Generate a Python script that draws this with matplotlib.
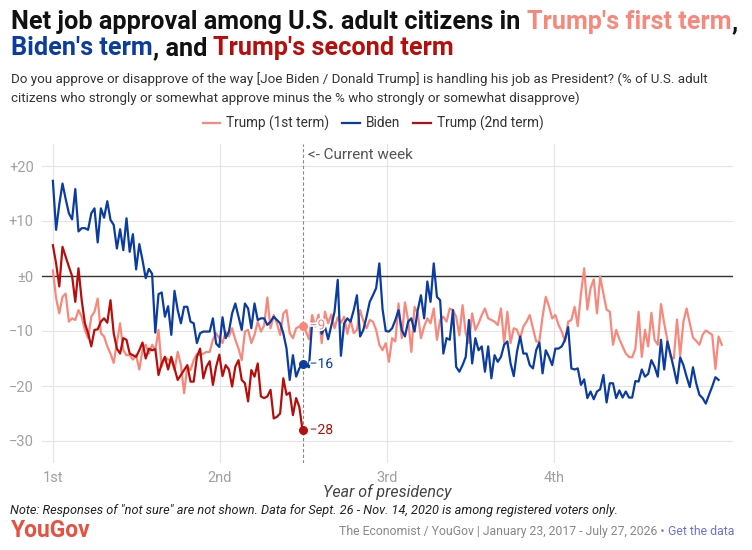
import numpy as np
import matplotlib.pyplot as plt
from matplotlib import patheffects as pe

# weekly net approval, week 0 = start of term
trump1 = [1.0, -4.0, -6.8, -3.8, -3.2, -8.3, -7.7, -8.0, -6.2, -7.4,
          -9.8, -11.3, -7.4, -6.5, -4.1, -10.4, -11.0, -12.8, -14.1, -15.8,
          -12.2, -8.6, -13.5, -14.4, -14.4, -15.2, -14.4, -17.0, -13.5, -12.5,
          -14.1, -12.5, -13.5, -9.8, -16.5, -14.7, -15.2, -15.3, -17.1, -13.8,
          -16.2, -21.3, -16.5, -17.1, -15.3, -14.2, -14.4, -14.1, -13.8, -13.8,
          -11.6, -10.4, -11.3, -12.2, -10.1, -11.0, -9.5, -11.6, -13.2, -15.3,
          -10.1, -9.8, -12.2, -10.7, -8.3, -10.1, -9.0, -3.9, -9.5, -7.1,
          -8.6, -10.7, -6.8, -6.2, -10.4, -11.3, -9.5, -9.2, -9.0, -10.0,
          -11.5, -7.1, -9.2, -7.0, -12.2, -6.5, -8.6, -7.0, -9.5, -7.5,
          -8.5, -7.4, -10.5, -8.0, -10.4, -9.8, -6.2, -8.2, -9.5, -8.0,
          -8.3, -9.8, -12.5, -13.5, -12.2, -15.6, -11.3, -11.9, -5.0, -11.3,
          -4.8, -8.0, -13.8, -5.6, -6.8, -11.3, -9.2, -7.7, -8.6, -5.9,
          -11.6, -8.0, -7.4, -8.3, -5.9, -6.2, -7.4, -10.8, -5.3, -10.4,
          -12.2, -6.8, -9.8, -8.6, -7.1, -5.9, -7.7, -8.0, -8.3, -8.9,
          -5.9, -12.2, -6.5, -12.2, -9.5, -9.8, -11.3, -9.2, -8.3, -7.1,
          -9.5, -11.9, -11.9, -7.4, -3.8, -5.5, -7.7, -7.1, -8.9, -10.1,
          -11.9, -8.3, -8.0, -5.6, -9.1, -3.2, 1.4, -6.1, -2.2, -0.6,
          -6.8, -0.1, -3.2, -6.1, -6.5, -12.5, -9.8, -11.5, -12.8, -14.1,
          -14.7, -14.8, -13.2, -6.5, -14.7, -9.8, -12.8, -6.7, -11.6, -12.5,
          -5.1, -8.6, -11.6, -14.7, -15.0, -7.9, -14.5, -8.3, -5.9, -8.6,
          -11.2, -11.8, -12.5, -10.7, -9.9, -10.3, -10.7, -16.9, -11.0, -12.5]

biden = [17.3, 8.4, 13.0, 16.8, 14.0, 11.4, 10.3, 15.8, 8.1, 8.7,
         8.7, 8.4, 11.4, 12.3, 6.1, 12.3, 10.6, 13.6, 10.2, 9.3,
         5.0, 8.5, 4.7, 10.5, 4.4, 7.6, 1.2, 5.8, 2.9, -0.4,
         1.3, 0.4, -10.3, -3.3, -3.0, -7.4, -5.5, -10.7, -2.7, -6.2,
         -8.6, -5.6, -5.6, -8.3, -8.6, -12.2, -10.4, -10.1, -10.1, -10.1,
         -7.7, -12.3, -12.9, -7.5, -11.3, -10.1, -6.8, -5.0, -7.4, -9.8,
         -5.0, -5.9, -9.5, -5.0, -8.0, -7.7, -7.7, -8.9, -8.3, -7.4,
         -8.0, -8.6, -10.4, -13.2, -18.9, -14.4, -18.3, -16.8, -16.0, -16.2,
         -16.6, -8.5, -8.9, -8.2, -10.5, -9.2, -11.5, -9.0, -6.5, -0.7,
         -14.5, -8.6, -7.7, -8.3, -6.2, -3.5, -11.0, -9.8, -7.4, -4.7,
         -3.5, -2.2, 2.3, -6.0, -10.0, -10.1, -9.5, -8.0, -6.2, -9.8,
         -11.0, -8.3, -7.7, -10.1, -6.2, -3.5, -7.7, -1.0, -4.7, 2.3,
         -3.8, -4.4, -14.1, -11.3, -11.6, -6.2, -16.5, -17.4, -16.2, -14.7,
         -8.0, -15.9, -11.3, -13.5, -12.8, -17.4, -12.8, -18.6, -14.4, -15.6,
         -14.7, -12.5, -11.9, -15.9, -18.2, -13.8, -11.0, -14.1, -14.1, -16.2,
         -16.8, -13.5, -12.1, -17.7, -13.5, -14.7, -16.2, -13.2, -13.2, -12.8,
         -11.6, -9.3, -16.8, -17.0, -16.8, -19.8, -18.8, -22.2, -21.0, -22.4,
         -21.0, -20.6, -18.0, -23.0, -19.5, -19.5, -22.2, -20.8, -22.1, -21.0,
         -22.1, -22.1, -19.1, -19.2, -17.0, -18.3, -17.8, -15.3, -16.5, -18.3,
         -11.6, -17.0, -11.9, -14.3, -16.8, -19.5, -14.8, -16.2, -18.3, -20.2,
         -16.6, -19.5, -21.6, -22.2, -23.2, -21.6, -20.1, -18.4, -18.9]

trump2 = [5.6, 2.3, -1.9, 5.3, 3.5, 1.7, 0.0, -4.7, 1.4, -4.4,
          -8.6, -10.4, -12.8, -9.8, -9.7, -8.3, -7.7, -8.5, -4.4, -10.4,
          -13.2, -14.1, -11.3, -11.6, -14.1, -14.4, -14.7, -13.5, -12.1, -15.0,
          -13.2, -13.5, -13.3, -18.0, -15.9, -14.7, -17.0, -14.7, -16.8, -18.9,
          -18.0, -17.1, -16.2, -19.2, -19.2, -14.7, -13.2, -18.6, -16.5, -15.5,
          -19.8, -16.5, -14.3, -18.2, -16.2, -17.0, -20.1, -16.5, -15.3, -18.9,
          -19.5, -22.8, -17.1, -18.3, -15.9, -21.9, -22.2, -21.9, -20.7, -25.9,
          -25.6, -25.0, -18.6, -21.6, -21.2, -25.3, -22.2, -23.8, -28.0]

series_names = ['Trump (1st term)', 'Biden', 'Trump (2nd term)']
year_labels = ['1st', '2nd', '3rd', '4th']
y_ticks = [20, 10, 0, -10, -20, -30]
y_labels = ['+20', '+10', '\u00b10', '\u221210', '\u221220', '\u221230']
current_week = 78
week_labels = ['\u22129', '\u221216', '\u221228']

c_t1 = '#f7897c'
c_bi = '#0b3c9f'
c_t2 = '#b70e0b'

plt.rcParams['font.family'] = ['Roboto', 'DejaVu Sans']

W, H = 752, 550
fig = plt.figure(figsize=(W / 100, H / 100), dpi=100)
ax = fig.add_axes([42 / W, 1 - 463 / H, (733 - 42) / W, (463 - 144) / H])

wpy = 365.25 / 7
ax.plot(np.arange(len(trump1)), trump1, color=c_t1, lw=1.6, label=series_names[0], zorder=3)
ax.plot(np.arange(len(biden)), biden, color=c_bi, lw=1.6, label=series_names[1], zorder=4)
ax.plot(np.arange(len(trump2)), trump2, color=c_t2, lw=1.6, label=series_names[2], zorder=5)

# current week markers
for vals, col, lab in zip([trump1, biden, trump2], [c_t1, c_bi, c_t2], week_labels):
    v = vals[current_week]
    ax.plot(current_week, v, 'o', color=col, ms=5.5, zorder=6)
    ax.text(current_week + 2.2, v, lab, color=col, fontsize=10, va='center',
            zorder=7, path_effects=[pe.withStroke(linewidth=2.5, foreground='white')])

ax.axvline(current_week + 0.2, color='#888888', lw=0.8, ls=(0, (3, 2)), zorder=2)
ax.text(current_week + 1.8, 23.2, '<- Current week', color='#555555', fontsize=11, va='top')
ax.axhline(0, color='#333333', lw=1.0, zorder=2.5)

ax.set_xlim(-3.4, 212.5)
ax.set_ylim(-34, 24)
ax.set_xticks([i * wpy for i in range(4)])
ax.set_xticklabels(year_labels)
ax.set_yticks(y_ticks)
ax.set_yticklabels(y_labels)
ax.tick_params(length=0, colors='#a0a0a0', labelsize=10.5)
ax.tick_params(axis='x', pad=6)
ax.tick_params(axis='y', pad=6)
ax.grid(color='#e4e4e4', lw=0.8)
ax.set_axisbelow(True)
for s in ax.spines.values():
    s.set_visible(False)
fig.text(387 / W, 1 - 492 / H, 'Year of presidency', fontstyle='italic', fontsize=11.5,
         color='#444444', ha='center', va='center')

fig.legend(loc='center', bbox_to_anchor=(373 / W, 1 - 123 / H), ncol=3, frameon=False,
           fontsize=9.8, handlelength=1.3, handletextpad=0.4, columnspacing=1.0,
           labelcolor='#333333')

renderer = fig.canvas.get_renderer()


def text_w(s, **kw):
    t1 = fig.text(0, 0, s + '|', **kw)
    t2 = fig.text(0, 0, '|', **kw)
    w = t1.get_window_extent(renderer).width - t2.get_window_extent(renderer).width
    t1.remove()
    t2.remove()
    return w


def rich(x, y, parts, **kw):
    for s, c in parts:
        fig.text(x / W, 1 - y / H, s, color=c, va='baseline', **kw)
        x += text_w(s, **kw)


title_kw = dict(fontsize=18.2, fontweight='bold')
rich(11, 29, [("Net job approval among U.S. adult citizens in ", '#111111'),
              ("Trump's first term", c_t1), (",", '#111111')], **title_kw)
rich(11, 55, [("Biden's term", c_bi), (", and ", '#111111'),
              ("Trump's second term", c_t2)], **title_kw)

fig.text(11 / W, 1 - 83 / H,
         'Do you approve or disapprove of the way [Joe Biden / Donald Trump] is handling his job as President? (% of U.S. adult',
         fontsize=9.6, color='#333333', va='baseline')
fig.text(11 / W, 1 - 102 / H,
         'citizens who strongly or somewhat approve minus the % who strongly or somewhat disapprove)',
         fontsize=9.6, color='#333333', va='baseline')

fig.text(10 / W, 1 - 514 / H,
         'Note: Responses of "not sure" are not shown. Data for Sept. 26 - Nov. 14, 2020 is among registered voters only.',
         fontsize=9.2, fontstyle='italic', color='#222222', va='baseline')

fig.text(11 / W, 1 - 537 / H, 'YouGov', fontsize=16.5, fontweight='bold', color='#e8503f',
         va='baseline')

foot_kw = dict(fontsize=8.8, va='baseline')
gw = text_w('Get the data', **foot_kw)
fig.text(734 / W, 1 - 535 / H, 'Get the data', color='#6f6fd8', ha='right', **foot_kw)
fig.text((734 - gw - 3) / W, 1 - 535 / H,
         'The Economist / YouGov | January 23, 2017 - July 27, 2026 \u2022', color='#888888',
         ha='right', **foot_kw)

fig.savefig('out.png', dpi=100)
